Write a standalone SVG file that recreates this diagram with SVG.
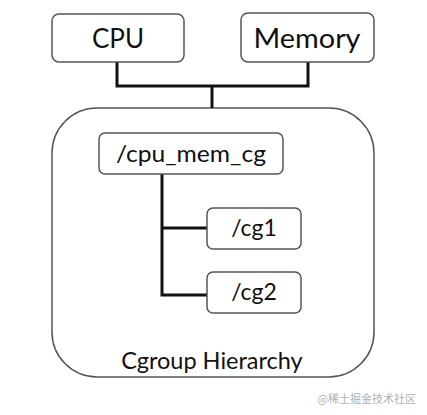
<svg xmlns="http://www.w3.org/2000/svg" width="427" height="415" viewBox="0 0 427 415">
<style>
.box{fill:#fff;stroke:#555;stroke-width:1.5}
.t{font-family:Lato,"Open Sans","Liberation Sans",sans-serif;fill:#111;text-anchor:middle}
.c{fill:none;stroke:#111;stroke-width:3}
</style>
<rect width="427" height="415" fill="#fff"/>
<g id="cgroup">
<rect class="box" x="52" y="108" width="322" height="269" rx="45"/>
<text class="t" x="212" y="369" font-size="23.5">Cgroup Hierarchy</text>
</g>
<g id="connectors">
<polyline class="c" points="117,62 117,86 308,86 308,62"/>
<line class="c" x1="212" y1="86" x2="212" y2="108"/>
<polyline class="c" points="162,174 162,295 207,295"/>
<line class="c" x1="162" y1="228" x2="207" y2="228"/>
</g>
<g id="cpu">
<rect class="box" x="52" y="14" width="132" height="48" rx="7"/>
<text class="t" x="118" y="48" font-size="26">CPU</text>
</g>
<g id="memory">
<rect class="box" x="241" y="13" width="133" height="49" rx="7"/>
<text class="t" x="307" y="48" font-size="26" textLength="107" lengthAdjust="spacingAndGlyphs">Memory</text>
</g>
<g id="cpu_mem_cg">
<rect class="box" x="99" y="133" width="184" height="41" rx="6"/>
<text class="t" x="191" y="162" font-size="24" textLength="150" lengthAdjust="spacingAndGlyphs">/cpu_mem_cg</text>
</g>
<g id="cg1">
<rect class="box" x="207" y="208" width="94" height="41" rx="6"/>
<text class="t" x="254" y="236" font-size="23">/cg1</text>
</g>
<g id="cg2">
<rect class="box" x="207" y="272" width="94" height="41" rx="6"/>
<text class="t" x="254" y="300" font-size="23">/cg2</text>
</g>
<text x="416" y="403" font-family="'Noto Sans CJK SC',sans-serif" font-size="11" fill="#b0b0b0" text-anchor="end">@稀土掘金技术社区</text>
</svg>
